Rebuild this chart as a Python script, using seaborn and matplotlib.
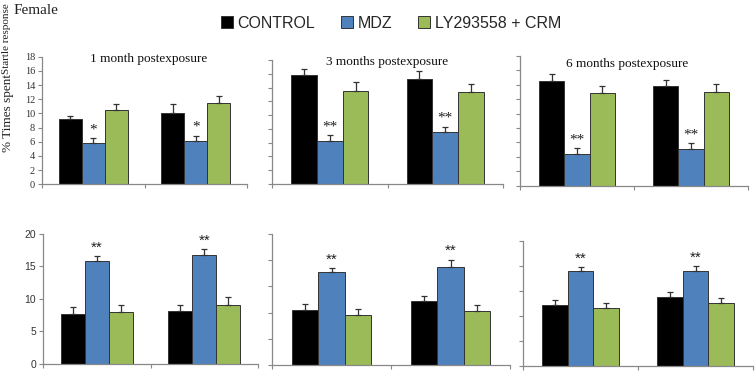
"""
Recreate the composite bar chart: % time, six panels (1/3/6 months postexposure),
CONTROL vs MDZ vs LY293558 + CRM.
"""
import numpy as np
import pandas as pd
import matplotlib
matplotlib.use("Agg")
import matplotlib.pyplot as plt
import seaborn as sns

W, H = 756, 380

treatments = ["CONTROL", "MDZ", "LY293558 + CRM"]
groups = ["A", "B"]
palette = {"CONTROL": "#000000", "MDZ": "#4F81BD", "LY293558 + CRM": "#9BBB59"}

# means per treatment (rows) and group (cols)
m_top_1m = [[9.15, 10.1], [5.8, 6.05], [10.5, 11.4]]
e_top_1m = [[0.55, 1.2], [0.7, 0.8], [0.8, 1.1]]
m_top_3m = [[15.8, 15.3], [6.3, 7.5], [13.55, 13.3]]
e_top_3m = [[0.9, 1.1], [0.8, 0.8], [1.25, 1.2]]
m_top_6m = [[14.5, 13.8], [4.4, 5.1], [12.9, 13.0]]
e_top_6m = [[1.0, 0.8], [0.8, 0.8], [0.9, 1.1]]
m_bot_1m = [[7.6, 8.1], [15.8, 16.7], [7.9, 9.0]]
e_bot_1m = [[1.1, 0.9], [0.8, 1.0], [1.1, 1.2]]
m_bot_3m = [[8.35, 9.8], [14.2, 15.0], [7.7, 8.2]]
e_bot_3m = [[0.9, 0.7], [0.6, 1.1], [0.9, 0.9]]
m_bot_6m = [[9.7, 11.05], [15.15, 15.15], [9.2, 10.0]]
e_bot_6m = [[0.9, 0.75], [0.65, 0.75], [0.8, 0.8]]

top_stars = ["*", "**", "**"]
bot_stars = ["**", "**", "**"]
titles = ["1 month postexposure", "3 months postexposure", "6 months postexposure"]

SERIF = "Liberation Serif"
SANS = "Liberation Sans"

sns.set_style("white")


def rect(x0, x1, y0, y1):
    return [x0 / W, 1 - y1 / H, (x1 - x0) / W, (y1 - y0) / H]


def draw_panel(ax, means, errs, star, ymax, ystep, labels, font, title=None, title_xy=None):
    df = pd.DataFrame({
        "group": [g for t in treatments for g in groups],
        "treatment": [t for t in treatments for g in groups],
        "value": [v for row in means for v in row],
    })
    sns.barplot(data=df, x="group", y="value", hue="treatment", hue_order=treatments,
                palette=palette, width=0.67, gap=0, errorbar=None,
                edgecolor="#333333", linewidth=0.7, saturation=1, ax=ax, legend=True)
    bar_sets = list(ax.containers)
    for i, cont in enumerate(bar_sets):
        for j, bar in enumerate(cont.patches):
            xc = bar.get_x() + bar.get_width() / 2
            top = bar.get_height()
            err = errs[i][j]
            ax.errorbar(xc, top, yerr=[[0], [err]], fmt="none", ecolor="#333333",
                        elinewidth=0.9, capsize=2.2, capthick=0.9, zorder=3)
            if treatments[i] == "MDZ":
                ax.annotate(star, (xc, top + err), xytext=(0, 6), textcoords="offset points",
                            ha="center", va="center", fontsize=11, color="#222222",
                            family=font)
    ax.set_xlim(-0.5, 1.5)
    ax.set_ylim(0, ymax)
    ax.set_xticks([-0.5, 0.5, 1.5])
    ax.set_xticklabels([])
    ticks = np.arange(0, ymax + 0.01, ystep)
    ax.set_yticks(ticks)
    if labels:
        ax.set_yticklabels([f"{int(v)}" for v in ticks],
                           family=font, fontsize=7.5, color="#333333")
    else:
        ax.set_yticklabels([])
    ax.tick_params(axis="both", which="both", direction="out", length=3, width=0.8,
                   color="#888888", pad=2, left=True, bottom=True)
    ax.set_xlabel("")
    ax.set_ylabel("")
    sns.despine(ax=ax)
    for s in ["left", "bottom"]:
        ax.spines[s].set_color("#888888")
        ax.spines[s].set_linewidth(0.9)
    if title:
        ax.text(title_xy[0], title_xy[1], title, transform=ax.transAxes, ha="center",
                va="center", family=SERIF, fontsize=9.5, color="#111111")
    handles, labs = ax.get_legend_handles_labels()
    ax.get_legend().remove()
    return handles, labs


fig = plt.figure(figsize=(W / 100, H / 100), dpi=100)

top_rects = [rect(42, 247, 56.7, 184.3), rect(272, 503, 60, 184), rect(520, 748, 56, 185.7)]
bot_rects = [rect(43, 258, 233.7, 363.7), rect(272, 510, 234, 365), rect(523, 753, 240.7, 366)]
top_data = [(m_top_1m, e_top_1m), (m_top_3m, e_top_3m), (m_top_6m, e_top_6m)]
bot_data = [(m_bot_1m, e_bot_1m), (m_bot_3m, e_bot_3m), (m_bot_6m, e_bot_6m)]
title_pos = [(0.52, 0.98), (0.5, 0.98), (0.47, 0.94)]

handles = None
for k in range(3):
    ax = fig.add_axes(top_rects[k])
    h, l = draw_panel(ax, top_data[k][0], top_data[k][1], top_stars[k], 18, 2,
                      k == 0, SERIF, titles[k], title_pos[k])
    handles = (h, l)
    ax = fig.add_axes(bot_rects[k])
    draw_panel(ax, bot_data[k][0], bot_data[k][1], bot_stars[k], 20, 5 if k == 0 else 4,
               k == 0, SANS)

fig.legend(handles[0], handles[1], loc="center", bbox_to_anchor=(0.517, 0.939), ncol=3,
           frameon=False, handlelength=0.75, handleheight=0.75, handletextpad=0.3,
           columnspacing=1.6, prop={"family": SANS, "size": 11.5})

# y label pieces, stacked bottom to top in the narrow left margin
fig.text(0.002, 1 - 152 / H, "% Times spent", rotation=90,
         ha="left", va="bottom", family=SERIF, fontsize=9.5, color="#222222")
fig.text(0.002, 1 - 74 / H, "Startle response", rotation=90,
         ha="left", va="bottom", family=SERIF, fontsize=8, color="#222222")
fig.text(14 / W, 1 - 14 / H, "Female", ha="left", va="baseline",
         family=SERIF, fontsize=11, color="#222222")

fig.savefig("out.png", dpi=100)
